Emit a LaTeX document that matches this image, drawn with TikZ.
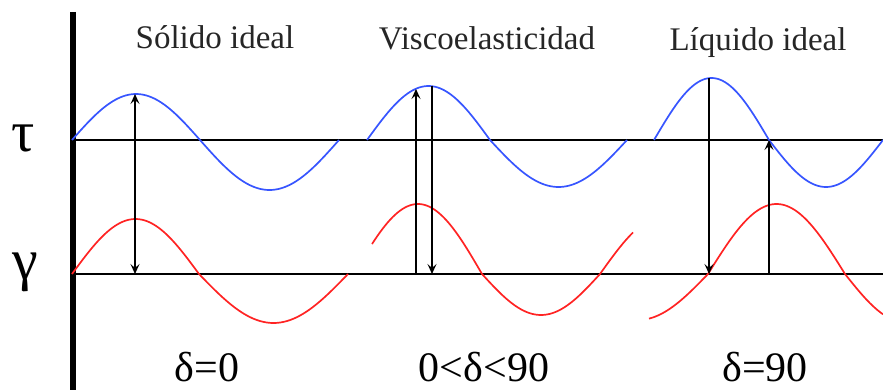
\documentclass[tikz,border=0pt]{standalone}
\usepackage{fontspec}
\setmainfont{Liberation Serif}
\usepackage{tikz}
\usetikzlibrary{arrows.meta}
\definecolor{WaveBlue}{RGB}{55,85,255}
\definecolor{WaveRed}{RGB}{255,35,35}
\begin{document}
\begin{tikzpicture}[x=1pt, y=-1pt,
	wave/.style={line width=1.7pt, smooth, samples=60, variable=\x},
	guide/.style={line width=1.2pt, black},
	link/.style={line width=1.1pt, black, -{Stealth[length=10pt, width=9pt, inset=4pt]}},
	title/.style={font=\fontsize{33}{36}\selectfont, anchor=base, text=black!85},
	axislabel/.style={font=\fontsize{58}{60}\selectfont, anchor=base},
	phase/.style={font=\fontsize{42}{44}\selectfont, anchor=base, text depth=0pt, inner sep=0pt}]
	\useasboundingbox (0,0) rectangle (883,390);
	
	% 坐标轴
	\draw[line width=6pt] (72.5,12) -- (72.5,390);
	\draw[guide] (72,140) -- (883,140);
	\draw[guide] (72,274) -- (883,274);
	
	\node[axislabel] (tau) at (23,152) {τ};
	\node[axislabel] (gamma) at (25,279) {γ};
	
	% 应力 τ
	\draw[wave, WaveBlue] plot[domain=72:200] ({\x},{140-46*sin((\x-72)/128*180)})
		-- plot[domain=200:339] ({\x},{140+50*sin((\x-200)/139*180)});
	\draw[wave, WaveBlue] plot[domain=367:490] ({\x},{140-54*sin((\x-367)/123*180)})
		-- plot[domain=490:627] ({\x},{140+47*sin((\x-490)/137*180)});
	\draw[wave, WaveBlue] plot[domain=654:769] ({\x},{140-62*sin((\x-654)/115*180)})
		-- plot[domain=769:883] ({\x},{140+47*sin((\x-769)/114*180)});
	
	% 应变 γ
	\draw[wave, WaveRed] plot[domain=72:199] ({\x},{274-55*sin((\x-72)/127*180)})
		-- plot[domain=199:348] ({\x},{274+49*sin((\x-199)/149*180)});
	\draw[wave, WaveRed] plot[domain=372:482] ({\x},{274-70*sin((\x-354)/128*180)})
		-- plot[domain=482:600] ({\x},{274+41*sin((\x-482)/118*180)})
		-- plot[domain=600:633] ({\x},{274-58*sin((\x-600)/130*180)});
	\draw[wave, WaveRed] plot[domain=649:708] ({\x},{274+46*sin((\x-568)/140*180)})
		-- plot[domain=708:845] ({\x},{274-70*sin((\x-708)/137*180)})
		-- plot[domain=845:883] ({\x},{274+48*sin((\x-845)/120*180)});
	
	\coordinate (solTop) at (135,94);
	\coordinate (solBot) at (135,274);
	\coordinate (visUpTop) at (416,89);
	\coordinate (visUpBot) at (416,274);
	\coordinate (visDnTop) at (432,86);
	\coordinate (visDnBot) at (432,274);
	\coordinate (liqDnTop) at (709,78);
	\coordinate (liqDnBot) at (709,274);
	\coordinate (liqUpTop) at (769,140);
	\coordinate (liqUpBot) at (769,274);
	
	% 相位差
	\draw[link, {Stealth[length=10pt, width=9pt, inset=4pt]}-{Stealth[length=10pt, width=9pt, inset=4pt]}] (solTop) -- (solBot);
	\draw[link] (visUpBot) -- (visUpTop);
	\draw[link] (visDnTop) -- (visDnBot);
	\draw[link] (liqDnTop) -- (liqDnBot);
	\draw[link] (liqUpBot) -- (liqUpTop);
	
	\node[title] (solido) at (215,49) {Sólido ideal};
	\node[title] (visco) at (487,50) {Viscoelasticidad};
	\node[title] (liquido) at (758,51) {Líquido ideal};
	
	\node[phase] (d0) at (207,381) {δ=0};
	\node[phase] (dmid) at (484,381) {0<δ<90};
	\node[phase] (d90) at (765,381) {δ=90};
\end{tikzpicture}
\end{document}
